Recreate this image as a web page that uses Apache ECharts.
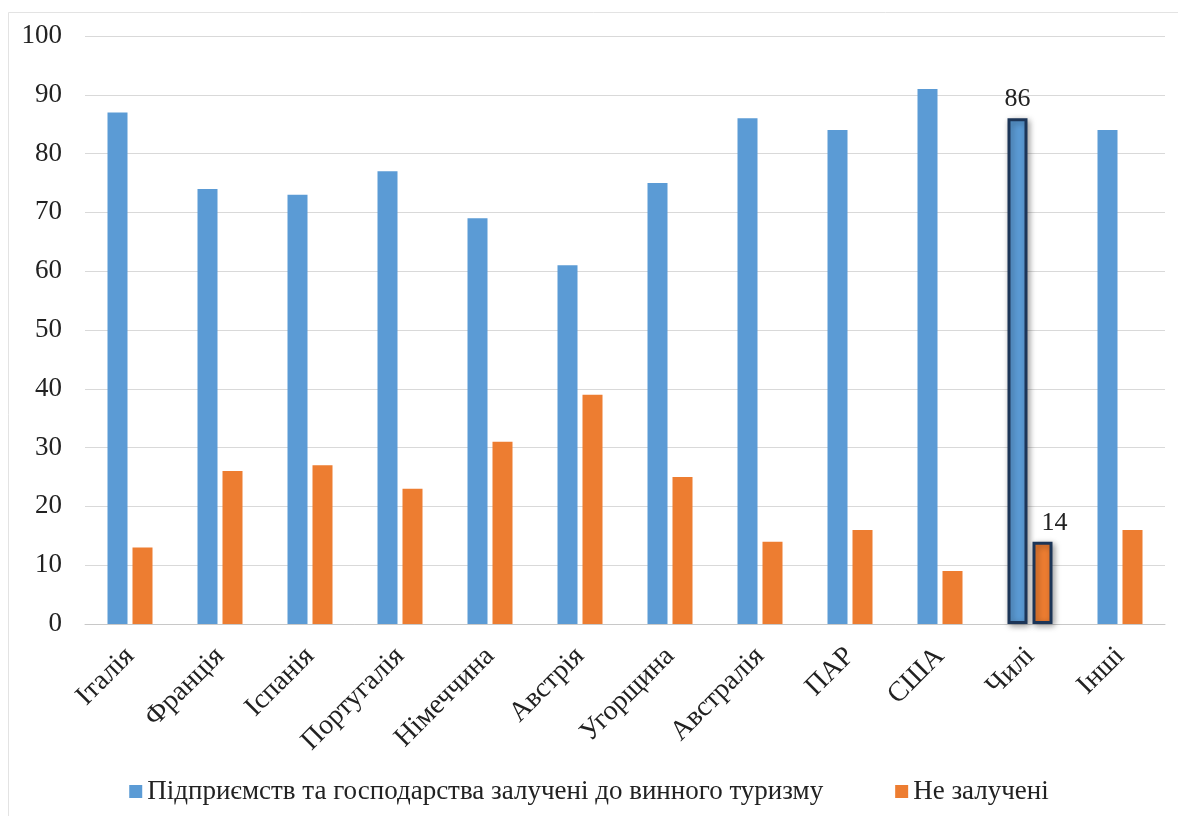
<!DOCTYPE html>
<html>
<head>
<meta charset="utf-8">
<script src="https://cdn.jsdelivr.net/npm/echarts@6/dist/echarts.min.js"></script>
<style>
  html, body { margin: 0; padding: 0; background: #ffffff; }
  #chart { width: 1178px; height: 816px; }
</style>
</head>
<body>
<div id="chart"></div>
<script>
// Countries on the category axis
const categories = ['Італія', 'Франція', 'Іспанія', 'Португалія', 'Німеччина', 'Австрія',
                    'Угорщина', 'Австралія', 'ПАР', 'США', 'Чилі', 'Інші'];
// Share of enterprises and farms involved in wine tourism, %
const involved = [87, 74, 73, 77, 69, 61, 75, 86, 84, 91, 86, 84];
// Share not involved, %
const notInvolved = [13, 26, 27, 23, 31, 39, 25, 14, 16, 9, 14, 16];
const seriesNames = ['Підприємств та господарства залучені до винного туризму', 'Не залучені'];
// Highlighted category (outlined bars with value labels)
const highlighted = 'Чилі';

const serif = 'serif';
const BLUE = '#5b9bd5';
const ORANGE = '#ed7d31';

function buildData(values, labelOffset) {
  return values.map((v, i) => {
    if (categories[i] !== highlighted) return v;
    return {
      value: v,
      itemStyle: {
        borderColor: '#1c3557',
        borderWidth: 3,
        shadowColor: 'rgba(0,0,0,0.35)',
        shadowBlur: 6,
        shadowOffsetX: 2,
        shadowOffsetY: 2
      },
      label: {
        show: true,
        position: 'top',
        distance: 6,
        offset: labelOffset,
        fontFamily: serif,
        fontSize: 26,
        color: '#222'
      }
    };
  });
}

const chart = echarts.init(document.getElementById('chart'));
chart.setOption({
  backgroundColor: '#ffffff',
  animation: false,
  textStyle: { fontFamily: serif },
  graphic: [
    {
      type: 'polyline',
      shape: { points: [[8.5, 816], [8.5, 12.5], [1178, 12.5]] },
      style: { fill: 'none', stroke: '#e3e3e3', lineWidth: 1 },
      silent: true
    }
  ],
  grid: { left: 85, right: 13, top: 36, bottom: 192 },
  legend: {
    bottom: 6,
    left: 'center',
    itemGap: 72,
    itemWidth: 13,
    itemHeight: 13,
    icon: 'rect',
    textStyle: { fontFamily: serif, fontSize: 27, color: '#222' }
  },
  xAxis: {
    type: 'category',
    data: categories,
    axisLine: { lineStyle: { color: '#c8c8c8', width: 1 } },
    axisTick: { show: false },
    axisLabel: {
      rotate: 45,
      margin: 28,
      interval: 0,
      fontFamily: serif,
      fontSize: 28,
      color: '#222'
    }
  },
  yAxis: {
    type: 'value',
    min: 0,
    max: 100,
    interval: 10,
    axisLine: { show: false },
    axisTick: { show: false },
    splitLine: { lineStyle: { color: '#d9d9d9', width: 1 } },
    axisLabel: {
      margin: 23,
      fontFamily: serif,
      fontSize: 27,
      color: '#222'
    }
  },
  series: [
    {
      name: seriesNames[0],
      type: 'bar',
      data: buildData(involved, [0, 0]),
      barWidth: 20,
      barGap: '25%',
      itemStyle: { color: BLUE }
    },
    {
      name: seriesNames[1],
      type: 'bar',
      data: buildData(notInvolved, [12, 0]),
      barWidth: 20,
      itemStyle: { color: ORANGE }
    }
  ]
});
</script>
</body>
</html>
